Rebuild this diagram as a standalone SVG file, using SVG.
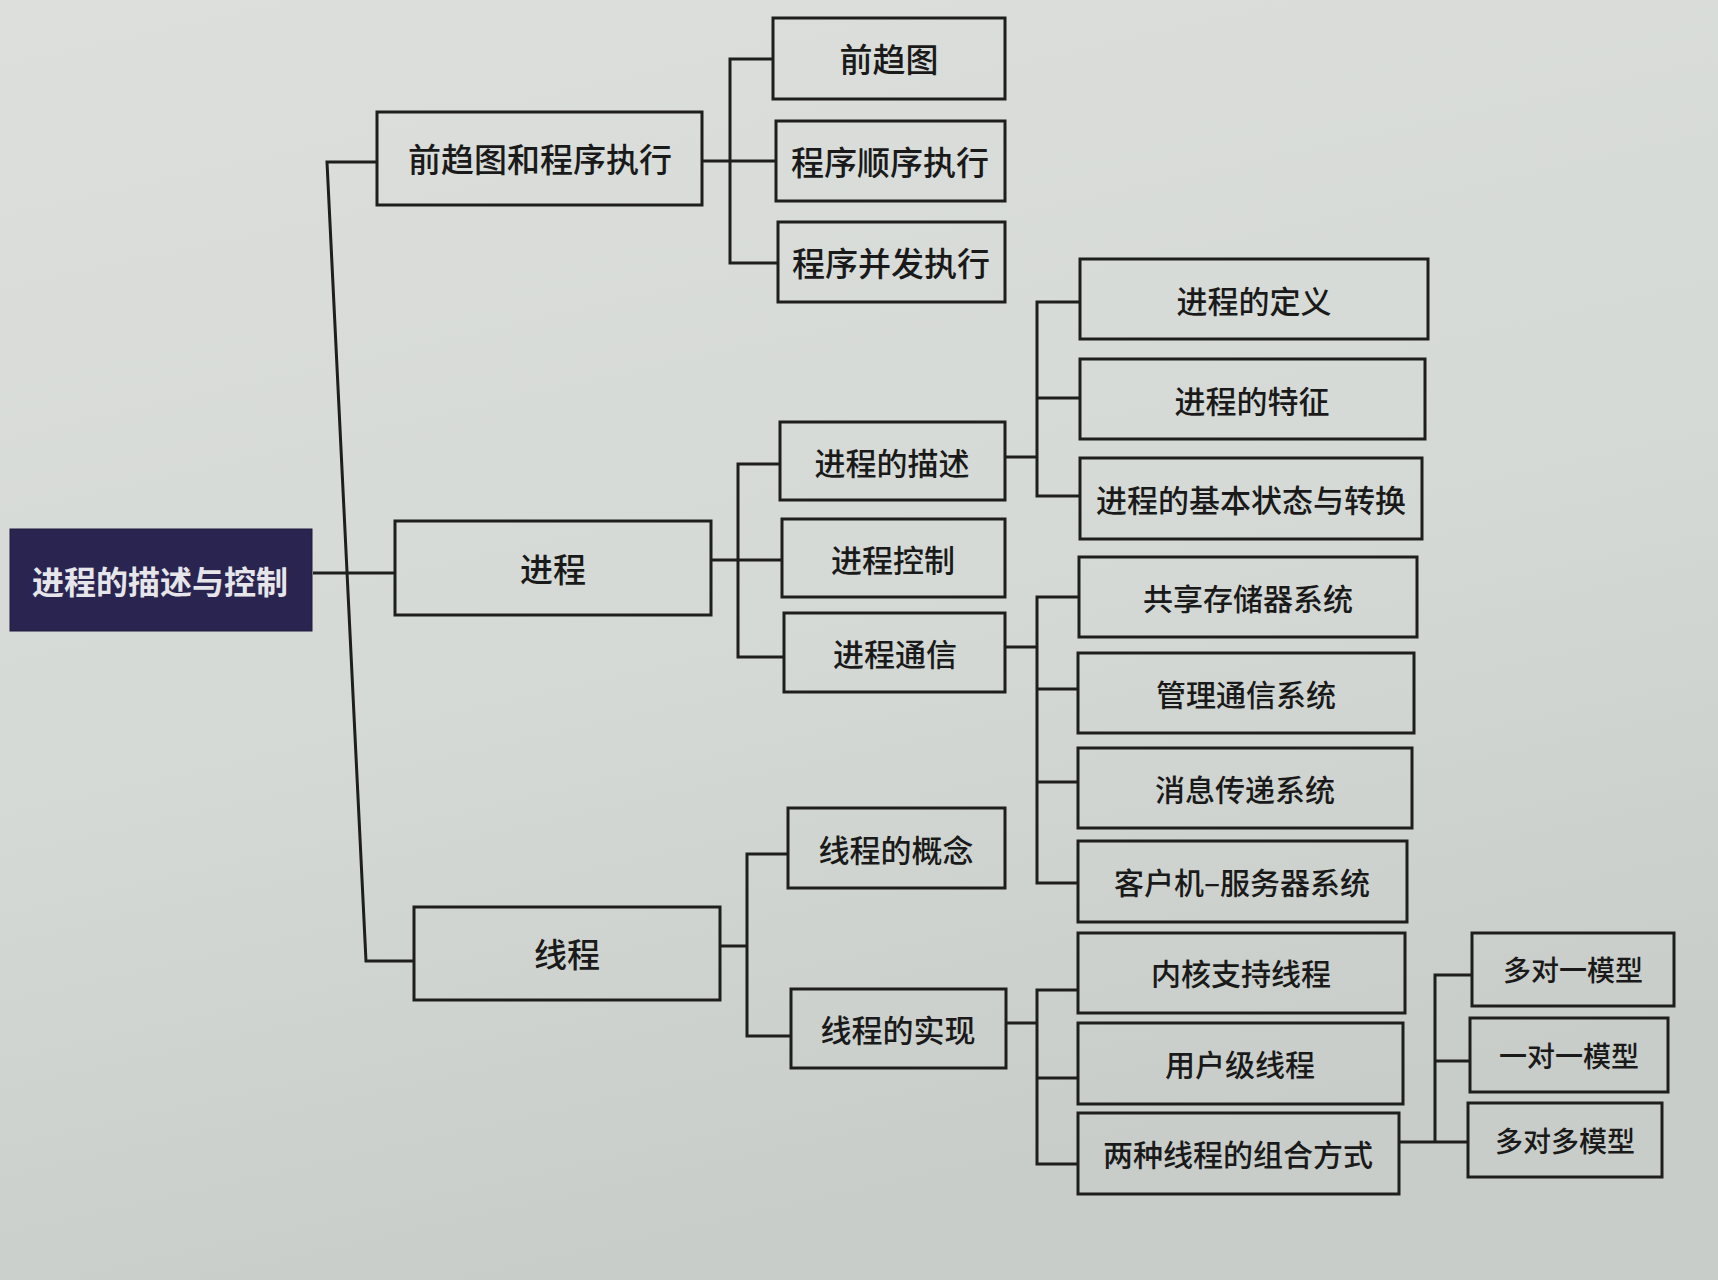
<svg xmlns="http://www.w3.org/2000/svg" width="1718" height="1280" viewBox="0 0 1718 1280">
<defs>
<linearGradient id="bg" x1="0" y1="0" x2="0.3" y2="1">
<stop offset="0" stop-color="#dcdfdb"/>
<stop offset="0.6" stop-color="#d5d9d5"/>
<stop offset="1" stop-color="#c9cdc9"/>
</linearGradient>
<style>
.box{fill:none;stroke:#1e1e1e;stroke-width:3}
.root{fill:#2a2550;stroke:#1e1b3a;stroke-width:1}
.t{font-family:"Noto Sans CJK SC","Noto Sans CJK JP",sans-serif;font-size:31px;font-weight:500;fill:#1a1a1a;text-anchor:middle;dominant-baseline:central}
.rt{font-family:"Noto Sans CJK SC","Noto Sans CJK JP",sans-serif;font-size:32px;font-weight:700;fill:#e6e6ea;text-anchor:middle;dominant-baseline:central}
.l{font-size:33px}
.m{font-size:30px}
.s{font-size:28px}
.ln{fill:none;stroke:#1e1e1e;stroke-width:3;stroke-linejoin:miter}
</style>
</defs>
<rect x="0" y="0" width="1718" height="1280" fill="url(#bg)"/>

<g id="connectors">
<path class="ln" d="M377 162 H327 L366 961 H414"/>
<path class="ln" d="M313 573 H395"/>
<path class="ln" d="M702 161 H730 M773 59 H730 V263 H778 M730 161 H776"/>
<path class="ln" d="M711 560 H738 M780 464 H738 V657 H784 M738 560 H782"/>
<path class="ln" d="M1005 457 H1037 M1080 302 H1037 V496 H1080 M1037 398 H1080"/>
<path class="ln" d="M1005 647 H1037 M1079 597 H1037 V883 H1078 M1037 689 H1078 M1037 782 H1078"/>
<path class="ln" d="M720 946 H747 M788 854 H747 V1036 H791"/>
<path class="ln" d="M1006 1023 H1037 M1078 990 H1037 V1164 H1078 M1037 1078 H1078"/>
<path class="ln" d="M1399 1142 H1435 M1472 975 H1435 V1142 H1468 M1435 1061 H1470"/>
</g>

<g id="root"><rect class="root" x="10" y="529" width="302" height="102"/><text class="rt" x="160" y="580">进程的描述与控制</text></g>

<g id="n-qqt-cx"><rect class="box" x="377" y="112" width="325" height="93"/><text class="t l" x="540" y="158">前趋图和程序执行</text></g>
<g id="n-jc"><rect class="box" x="395" y="521" width="316" height="94"/><text class="t l" x="553" y="568">进程</text></g>
<g id="n-xc"><rect class="box" x="414" y="907" width="306" height="93"/><text class="t l" x="567" y="953">线程</text></g>

<g id="n-qqt"><rect class="box" x="773" y="18" width="232" height="81"/><text class="t l" x="889" y="58">前趋图</text></g>
<g id="n-sxzx"><rect class="box" x="776" y="121" width="229" height="80"/><text class="t l" x="890" y="161">程序顺序执行</text></g>
<g id="n-bfzx"><rect class="box" x="778" y="222" width="227" height="80"/><text class="t l" x="891" y="262">程序并发执行</text></g>

<g id="n-jcms"><rect class="box" x="780" y="422" width="225" height="78"/><text class="t" x="892" y="461">进程的描述</text></g>
<g id="n-jckz"><rect class="box" x="782" y="519" width="223" height="78"/><text class="t" x="893" y="558">进程控制</text></g>
<g id="n-jctx"><rect class="box" x="784" y="613" width="221" height="79"/><text class="t" x="895" y="652">进程通信</text></g>

<g id="n-dy"><rect class="box" x="1080" y="259" width="348" height="80"/><text class="t" x="1254" y="299">进程的定义</text></g>
<g id="n-tz"><rect class="box" x="1080" y="359" width="345" height="80"/><text class="t" x="1252" y="399">进程的特征</text></g>
<g id="n-zt"><rect class="box" x="1080" y="458" width="342" height="81"/><text class="t" x="1251" y="498">进程的基本状态与转换</text></g>

<g id="n-gx"><rect class="box" x="1079" y="557" width="338" height="80"/><text class="t m" x="1248" y="597">共享存储器系统</text></g>
<g id="n-gl"><rect class="box" x="1078" y="653" width="336" height="80"/><text class="t m" x="1246" y="693">管理通信系统</text></g>
<g id="n-xx"><rect class="box" x="1078" y="748" width="334" height="80"/><text class="t m" x="1245" y="788">消息传递系统</text></g>
<g id="n-kh"><rect class="box" x="1078" y="841" width="329" height="81"/><text class="t m" x="1242" y="881">客户机–服务器系统</text></g>

<g id="n-gn"><rect class="box" x="788" y="808" width="217" height="80"/><text class="t" x="896" y="848">线程的概念</text></g>
<g id="n-sx"><rect class="box" x="791" y="989" width="215" height="79"/><text class="t" x="898" y="1028">线程的实现</text></g>

<g id="n-nh"><rect class="box" x="1078" y="933" width="327" height="80"/><text class="t m" x="1241" y="972">内核支持线程</text></g>
<g id="n-yh"><rect class="box" x="1078" y="1023" width="325" height="81"/><text class="t m" x="1240" y="1063">用户级线程</text></g>
<g id="n-zh"><rect class="box" x="1078" y="1113" width="321" height="81"/><text class="t m" x="1238" y="1153">两种线程的组合方式</text></g>

<g id="n-m1"><rect class="box" x="1472" y="933" width="202" height="73"/><text class="t s" x="1573" y="969">多对一模型</text></g>
<g id="n-11"><rect class="box" x="1470" y="1018" width="198" height="74"/><text class="t s" x="1569" y="1055">一对一模型</text></g>
<g id="n-mm"><rect class="box" x="1468" y="1103" width="194" height="74"/><text class="t s" x="1565" y="1140">多对多模型</text></g>
</svg>
